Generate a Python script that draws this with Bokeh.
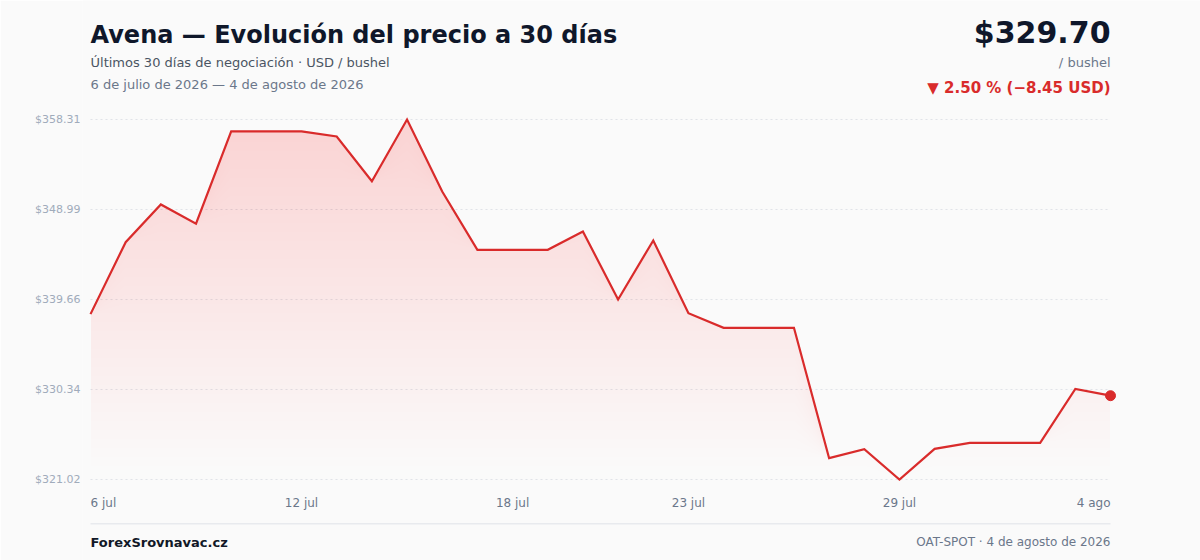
import numpy as np
from bokeh.plotting import figure
from bokeh.models import (Range1d, FixedTicker, NumeralTickFormatter, Label,
                          LabelSet, ColumnDataSource, BoxAnnotation)
from bokeh.core.properties import field, value
from bokeh.embed import file_html
from bokeh.resources import INLINE

# ---------------- data ----------------
dates = ["6 jul", "7 jul", "8 jul", "9 jul", "10 jul", "11 jul", "12 jul", "13 jul",
         "14 jul", "15 jul", "16 jul", "17 jul", "18 jul", "19 jul", "20 jul", "21 jul",
         "22 jul", "23 jul", "24 jul", "25 jul", "26 jul", "27 jul", "28 jul", "29 jul",
         "30 jul", "31 jul", "1 ago", "2 ago", "3 ago", "4 ago"]
prices = [338.15, 345.60, 349.51, 347.51, 357.07, 357.07, 357.07, 356.55,
          351.92, 358.31, 350.85, 344.81, 344.81, 344.81, 346.71, 339.67,
          345.78, 338.25, 336.73, 336.73, 336.73, 323.23, 324.16, 321.02,
          324.20, 324.82, 324.82, 324.82, 330.40, 329.70]
y_ticks = [321.02, 330.34, 339.66, 348.99, 358.31]
x_tick_idx = [0, 6, 12, 17, 23, 29]

title = "Avena — Evolución del precio a 30 días"
subtitle = "Últimos 30 días de negociación · USD / bushel"
date_range = "6 de julio de 2026 — 4 de agosto de 2026"
price_txt = "$329.70"
unit_txt = "/ bushel"
change_txt = "▼ 2.50 % (−8.45 USD)"
brand = "ForexSrovnavac.cz"
source_txt = "OAT-SPOT · 4 de agosto de 2026"

# ---------------- styling / layout ----------------
RED = "#d92b2b"
BG = "#fafafa"
FONT = "DejaVu Sans"
W, H = 1200, 560
FL = 82                      # frame left (canvas px); frame spans to right/bottom/top edges
PX0, PX1 = 90, 1110          # where first / last day sit
PY_TOP, PY_BOT = 119, 479    # where max / min tick sit

n = len(prices)
x = np.arange(n)
vals = np.array(prices)
ymin, ymax = min(y_ticks), max(y_ticks)

ppx = (PX1 - PX0) / (n - 1)
ppy = (PY_BOT - PY_TOP) / (ymax - ymin)
x_range = Range1d(-(PX0 - FL) / ppx, (n - 1) + (W - PX1) / ppx)
y_range = Range1d(ymin - (H - PY_BOT) / ppy, ymax + PY_TOP / ppy)

p = figure(width=W, height=H, output_backend="svg", toolbar_location=None,
           x_range=x_range, y_range=y_range, x_axis_location=None,
           min_border_left=FL, min_border_right=0, min_border_top=0, min_border_bottom=0,
           background_fill_color=BG, border_fill_color=BG, outline_line_color=None)
p.xgrid.visible = False
p.ygrid.visible = False

ax = p.yaxis[0]
ax.ticker = FixedTicker(ticks=y_ticks)
ax.formatter = NumeralTickFormatter(format="$0.00")
ax.axis_line_color = None
ax.major_tick_line_color = None
ax.minor_tick_line_color = None
ax.major_tick_in = 0
ax.major_tick_out = 0
ax.minor_tick_in = 0
ax.minor_tick_out = 0
ax.major_label_standoff = 2
ax.major_label_text_font = FONT
ax.major_label_text_font_size = "11px"
ax.major_label_text_color = "#a0abbb"

# dotted grid lines spanning the data
p.segment(x0=[0] * len(y_ticks), x1=[n - 1] * len(y_ticks), y0=y_ticks, y1=y_ticks,
          line_color="#e0e3e8", line_width=1, line_dash="2 3")

# gradient area: stacked translucent layers
N = 40
a = 1 - (1 - 0.19) ** (1.0 / N)
for k in range(N):
    lvl = ymin + (ymax - ymin) * (k + 1.5) / N
    p.varea(x=x, y1=np.minimum(vals, lvl), y2=vals, fill_color=RED, fill_alpha=a)

p.line(x, vals, line_color=RED, line_width=2.2, line_join="miter")
p.scatter([x[-1]], [vals[-1]], marker="circle", size=10, fill_color=RED, line_color=RED)

# x tick labels
aligns = ["left"] + ["center"] * (len(x_tick_idx) - 2) + ["right"]
src = ColumnDataSource(dict(x=x_tick_idx, y=[ymin] * len(x_tick_idx),
                            t=[dates[i] for i in x_tick_idx], al=aligns))
p.add_layout(LabelSet(x="x", y="y", text="t", source=src, text_align=field("al"),
                      y_offset=-23, text_baseline="middle", text_font=value(FONT),
                      text_font_size=value("12px"), text_color=value("#6b778a")))


# screen-unit helpers (relative to the frame: x from left, y up from bottom)
def lab(txt, px, py, size, color, bold=False, align="left"):
    p.add_layout(Label(x=px - FL, y=H - py, x_units="screen", y_units="screen",
                       text=txt, text_font=FONT, text_font_size=size, text_color=color,
                       text_font_style="bold" if bold else "normal",
                       text_align=align, text_baseline="middle"))


lab(title, 90, 34, "24px", "#0f172a", bold=True)
lab(subtitle, 90, 61.5, "13px", "#4b5563")
lab(date_range, 90, 83.5, "13px", "#6b778a")
lab(price_txt, 1110, 32, "30px", "#0f172a", bold=True, align="right")
lab(unit_txt, 1110, 61.5, "13px", "#6b778a", align="right")
lab(change_txt, 1110, 87, "15px", RED, bold=True, align="right")
lab(brand, 90, 541.5, "13px", "#111827", bold=True)
lab(source_txt, 1110, 541.5, "12px", "#6b778a", align="right")

p.add_layout(BoxAnnotation(left=90 - FL, right=1110 - FL, top=H - 522.5, bottom=H - 524,
                           left_units="screen", right_units="screen",
                           top_units="screen", bottom_units="screen",
                           fill_color="#e8eaee", fill_alpha=1, line_color=None))

open("out.html", "w").write(file_html(p, INLINE))
